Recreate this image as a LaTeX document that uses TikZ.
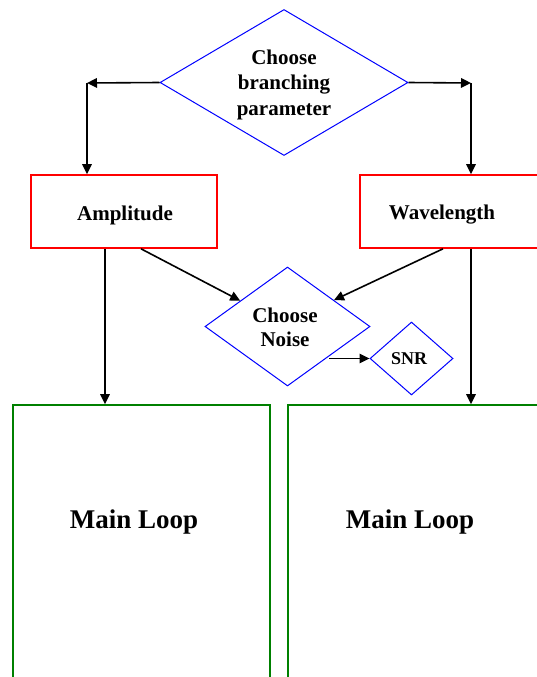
\documentclass[tikz,border=0pt]{standalone}
\usepackage{fontspec}
\setmainfont{Liberation Serif}
\usetikzlibrary{shapes.geometric,arrows.meta,calc}
\begin{document}
\begin{tikzpicture}[x=1pt,y=-1pt,
  decision/.style={diamond,draw=blue,line width=1pt,inner sep=0pt},
  param/.style={rectangle,draw=red,line width=1.6pt,minimum width=186pt,minimum height=73pt,inner sep=0pt},
  loopbox/.style={rectangle,draw=green!50!black,line width=1.8pt,minimum width=257pt,minimum height=320pt,inner sep=0pt},
  lbl/.style={font=\bfseries\fontsize{21}{25.5}\selectfont,align=center,inner sep=0pt},
  small/.style={font=\bfseries\fontsize{18}{22}\selectfont,inner sep=0pt},
  big/.style={font=\bfseries\fontsize{27}{32}\selectfont,inner sep=0pt},
  arr/.style={-{Triangle[length=10pt,width=9.5pt]},line width=1.6pt}]
\useasboundingbox (0,0) rectangle (537,677);
\clip (0,0) rectangle (537,677);

% decision shapes
\node[decision,minimum width=248pt,minimum height=146pt] (top) at (284,82.5) {};
\node[lbl] (topT) at (284,84.5) {Choose\\branching\\parameter};
\node[decision,minimum width=165pt,minimum height=119pt] (noise) at (287.5,326.5) {};
\node[lbl,font=\bfseries\fontsize{21}{24}\selectfont] (noiseT) at (285,327) {Choose\\Noise};
\node[decision,minimum width=83pt,minimum height=73pt] (snr) at (411.5,358.5) {};
\node[small] (snrT) at (409,359) {SNR};

% parameter boxes
\node[param] (amp) at (124,211.5) {};
\node[lbl] (ampT) at (125,215) {Amplitude};
\node[param] (wave) at (453,211.5) {};
\node[lbl] (waveT) at (442,215) {Wavelength};

% main loop boxes
\node[loopbox] (loopL) at (141.5,565) {};
\node[big] (loopLT) at (134,522.5) {Main Loop};
\node[loopbox] (loopR) at (416.5,565) {};
\node[big] (loopRT) at (410,522.5) {Main Loop};

% branching connectors
\coordinate (tl) at (87,83);
\coordinate (tr) at (471,83);
\draw[arr] (top.west) -- (tl);
\draw[arr] (tl) -- (tl |- amp.north);
\draw[arr] (top.east) -- (tr);
\draw[arr] (tr) -- (tr |- wave.north);

% into noise choice
\draw[arr] ([xshift=17pt]amp.south) -- ($(noise.west)!0.43!(noise.north)$);
\draw[arr] ([xshift=-10pt]wave.south) -- ($(noise.north)!0.56!(noise.east)$);
\draw[arr] (noise.south east |- snr.west) -- (snr.west);

% down to main loops
\draw[arr] ([xshift=-19pt]amp.south) -- ([xshift=-19pt]amp.south |- loopL.north);
\draw[arr] ([xshift=18pt]wave.south) -- ([xshift=18pt]wave.south |- loopR.north);
\end{tikzpicture}
\end{document}
